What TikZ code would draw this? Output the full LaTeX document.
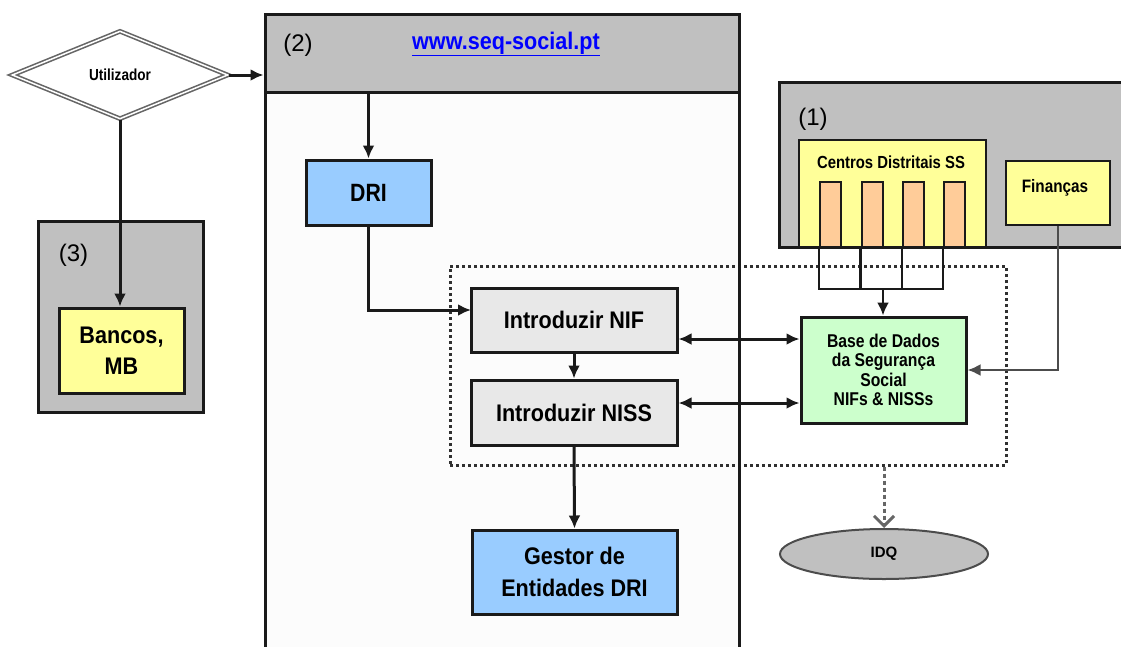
\documentclass[tikz,border=0pt]{standalone}
\usepackage{fontspec}
\setmainfont{Liberation Sans}
\newfontfamily\cond[FakeStretch=0.85]{Liberation Sans}
\newfontfamily\semi[FakeStretch=0.9]{Liberation Sans}
\usetikzlibrary{arrows.meta,shapes.geometric}
\definecolor{boxgray}{HTML}{C0C0C0}
\definecolor{boxblue}{HTML}{99CCFF}
\definecolor{boxyellow}{HTML}{FFFF99}
\definecolor{boxorange}{HTML}{FFCC99}
\definecolor{boxgreen}{HTML}{CCFFCC}
\definecolor{boxlight}{HTML}{E8E8E8}
\definecolor{bodyfill}{HTML}{FCFCFC}
\definecolor{linkblue}{HTML}{0000FF}
\definecolor{edge}{HTML}{1A1A1A}
\definecolor{dotgray}{HTML}{303030}
\begin{document}
\begin{tikzpicture}[x=1pt,y=-1pt,
  box/.style={draw=edge, line width=3pt, inner sep=0pt, align=center},
  thinbox/.style={draw=edge, line width=2pt, inner sep=0pt, align=center},
  bigtxt/.style={font=\semi\bfseries\fontsize{24}{32}\selectfont},
  smalltxt/.style={font=\cond\bfseries\fontsize{18}{19.5}\selectfont},
  numtxt/.style={font=\fontsize{24}{28}\selectfont, inner sep=0pt},
  conn/.style={line width=3pt, draw=edge},
  tip/.style={},
  arr/.style={conn, -{Latex[length=13pt,width=12pt]}},
  darr/.style={conn, {Latex[length=13pt,width=12pt]}-{Latex[length=13pt,width=12pt]}},
  thinline/.style={line width=2.4pt, draw=edge},
]
\useasboundingbox (0,0) rectangle (1121,646);
\fill[white] (0,0) rectangle (1121,646);

% ---------- box (2) ----------
\fill[bodyfill] (265,92) rectangle (739,660);
\draw[line width=3pt, draw=edge] (265,92) -- (265,660);
\draw[line width=3pt, draw=edge] (739,92) -- (739,660);
\node[box, fill=boxgray, minimum width=474, minimum height=78] (hdr2) at (502,53) {};
\node[numtxt] (n2) at (298,45) {(2)};
\node[font=\semi\bfseries\fontsize{24}{26}\selectfont, text=linkblue, inner sep=0pt] (link) at (506,44) {\underline{www.seq-social.pt}};

% ---------- box (3) ----------
\node[box, fill=boxgray, minimum width=165, minimum height=191] (box3) at (120.5,316.5) {};
\node[numtxt] (n3) at (73.5,255) {(3)};
\node[box, fill=boxyellow, font=\semi\bfseries\fontsize{24}{31}\selectfont, minimum width=125, minimum height=85] (bancos) at (121.5,350.5) {Bancos,\\MB};

% ---------- box (1) ----------
\node[box, fill=boxgray, minimum width=361, minimum height=165] (box1) at (959.5,164.5) {};
\node[numtxt] (n1) at (813,119) {(1)};
\node[thinbox, fill=boxyellow, minimum width=187, minimum height=107] (centros) at (892.5,193.5) {};
\node[font=\cond\bfseries\fontsize{17.5}{19}\selectfont, inner sep=0pt, anchor=base] (centrosT) at (891,168) {Centros Distritais SS};
\node[thinbox, fill=boxorange, minimum width=21, minimum height=65] (b1) at (830.5,214.5) {};
\node[thinbox, fill=boxorange, minimum width=21, minimum height=65] (b2) at (872,214.5) {};
\node[thinbox, fill=boxorange, minimum width=21, minimum height=65] (b3) at (913.5,214.5) {};
\node[thinbox, fill=boxorange, minimum width=21, minimum height=65] (b4) at (954.5,214.5) {};
\node[thinbox, fill=boxyellow, minimum width=104, minimum height=64] (fin) at (1058,193) {};
\node[smalltxt, inner sep=0pt, anchor=base] (finT) at (1055,192) {Finanças};

% ---------- dotted group ----------
\node[draw=dotgray, line width=3pt, dash pattern=on 3pt off 3pt, minimum width=556, minimum height=199, inner sep=0pt] (grp) at (728,365.5) {};
\draw[line width=3pt, draw=edge] (739,262) -- (739,470);

% ---------- process nodes ----------
\node[box, fill=boxblue, font=\cond\bfseries\fontsize{25}{28}\selectfont, minimum width=125, minimum height=65] (dri) at (368.5,192.5) {DRI};
\node[box, fill=boxlight, bigtxt, minimum width=206, minimum height=64] (nif) at (574,320) {Introduzir NIF};
\node[box, fill=boxlight, bigtxt, minimum width=206, minimum height=65] (niss) at (574,412.5) {Introduzir NISS};
\node[box, fill=boxblue, bigtxt, minimum width=205, minimum height=84] (gestor) at (574.5,572) {Gestor de\\Entidades DRI};
\node[box, fill=boxgreen, font=\cond\bfseries\fontsize{18.5}{19.5}\selectfont, minimum width=165, minimum height=106] (base) at (883.5,370) {Base de Dados\\da Segurança\\Social\\NIFs \& NISSs};
\node[ellipse, draw=black!70, line width=2pt, fill=boxgray, minimum width=208, minimum height=50, inner sep=0pt, font=\bfseries\fontsize{15}{18}\selectfont] (idq) at (884,554) {IDQ};

% ---------- user diamond ----------
\node[diamond, aspect=2.45, draw=black!60, double=white, double distance=1.5pt, line width=1.6pt, minimum width=216, minimum height=88, inner sep=0pt, font=\cond\bfseries\fontsize{16}{20}\selectfont] (util) at (120,75) {Utilizador};

% ---------- coordinates ----------
\coordinate (nifin) at (471,310);
\coordinate (r1) at (0,339);
\coordinate (r2) at (0,403);
\coordinate (join) at (883,289);

% ---------- connectors ----------
\draw[arr] (util.east) -- (hdr2.west |- util.east);
\draw[arr] (util.south) -- (util.south |- bancos.north);
\draw[arr] (dri.north |- hdr2.south) -- (dri.north);
\draw[arr] (dri.south) |- (nifin);
\draw[arr] (nif.south) -- (niss.north);
\draw[arr] (niss.south) -- (gestor.north);
\draw[darr] (nif.east |- r1) -- (base.west |- r1);
\draw[darr] (niss.east |- r2) -- (base.west |- r2);
\draw[thinline] (b1.south west) -- (b1.south west |- join) -- (b4.south west |- join) -- (b4.south west);
\draw[thinline] (b2.south west) -- (b2.south west |- join);
\draw[thinline] (b3.south west) -- (b3.south west |- join);
\draw[arr, line width=2.4pt] (join) -- (join |- base.north);
\draw[arr, line width=2.4pt, draw=black!70] (fin.south) |- (base.east);
\draw[line width=3pt, draw=black!60, dash pattern=on 4pt off 3pt, -{Straight Barb[length=10pt,width=20pt,line width=3pt]}] (grp.south -| idq.north) -- (idq.north);
\end{tikzpicture}
\end{document}
